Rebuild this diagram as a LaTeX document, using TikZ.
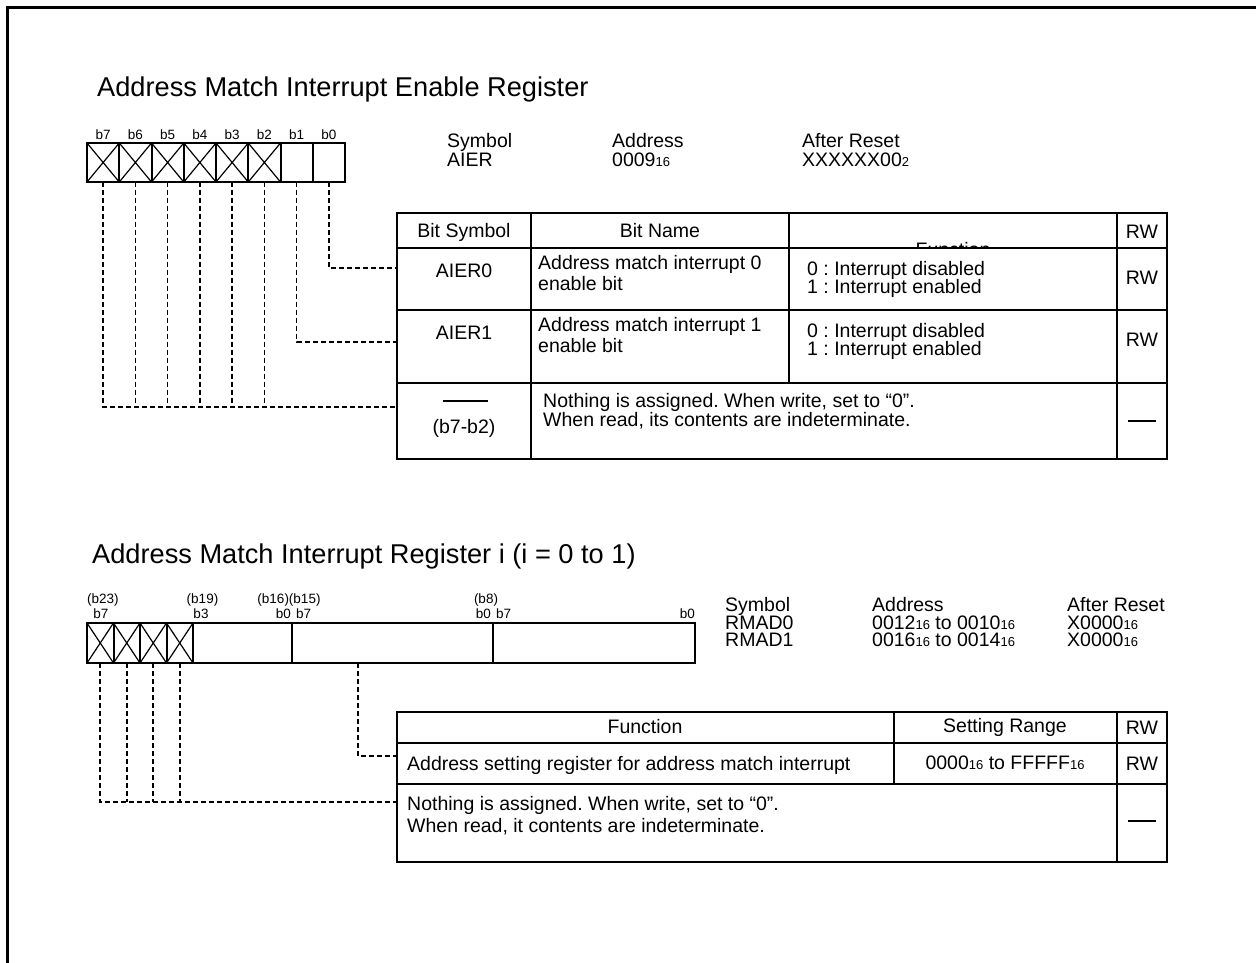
\documentclass[tikz,border=0pt]{standalone}
\usepackage{fontspec}
\setmainfont{Liberation Sans}
\frenchspacing
\newcommand\hx[1]{{\fontsize{13}{13}\selectfont #1}}
\begin{document}
\begin{tikzpicture}[x=1pt,y=-1pt,
  T/.style={font=\fontsize{19.5}{19.5}\selectfont, inner sep=0pt, text height=14pt, text depth=0pt},
  Ttl/.style={font=\fontsize{27.2}{27.2}\selectfont, inner sep=0pt, text height=19.5pt, text depth=0pt},
  B/.style={font=\fontsize{13.5}{13.5}\selectfont, inner sep=0pt, text height=9.7pt, text depth=0pt},
  box/.style={line width=2pt},
  cr/.style={line width=1.2pt},
  dsh/.style={line width=1.7pt, dash pattern=on 5pt off 3pt},
  tbl/.style={line width=1.8pt},
  frame/.style={line width=3pt}]
\useasboundingbox (0,0) rectangle (1256,963);
\draw[frame] (7.5,963) -- (7.5,7.5) -- (1256,7.5);

% ---------- Top register ----------
\node[Ttl, anchor=west] (title1) at (97,87) {Address Match Interrupt Enable Register};

\foreach \i in {0,...,7} {
  \pgfmathsetmacro\xl{87+(7-\i)*32.25}
  \draw[box] (\xl,143) rectangle ++(32.25,39);
  \coordinate (tb\i) at (\xl+16.125,182);
  \node[B] (tl\i) at (\xl+16.125,135) {b\i};
}
\foreach \i in {2,...,7} {
  \pgfmathsetmacro\xl{87+(7-\i)*32.25}
  \draw[cr] (\xl,143) -- ++(32.25,39) (\xl+32.25,143) -- ++(-32.25,39);
}

\node[T, anchor=west] (s1) at (447,141) {Symbol};
\node[T, anchor=west] (s2) at (447,160) {AIER};
\node[T, anchor=west] (a1) at (612,141) {Address};
\node[T, anchor=west] (a2) at (612,160) {0009\hx{16}};
\node[T, anchor=west] (r1) at (802,141) {After Reset};
\node[T, anchor=west] (r2) at (802,160) {XXXXXX00\hx{2}};

% table 1
\draw[tbl] (397,213) rectangle (1167,459);
\draw[tbl] (397,248) -- (1167,248);
\draw[tbl] (397,310) -- (1167,310);
\draw[tbl] (397,383) -- (1167,383);
\draw[tbl] (531,213) -- (531,459);
\draw[tbl] (789,213) -- (789,383);
\draw[tbl] (1117,213) -- (1117,459);

\node[T] (h1) at (464,230) {Bit Symbol};
\node[T] (h2) at (660,230) {Bit Name};
\begin{scope}
  \clip (790,214) rectangle (1116,247);
  \node[T] (h3) at (953,249) {Function};
\end{scope}
\node[T] (h4) at (1142,231.5) {RW};

\node[T] (c01) at (464,270) {AIER0};
\node[T, anchor=west] (c02) at (538,262) {Address match interrupt 0};
\node[T, anchor=west] (c03) at (538,283) {enable bit};
\node[T, anchor=west] (c04) at (807,268) {0 : Interrupt disabled};
\node[T, anchor=west] (c05) at (807,286) {1 : Interrupt enabled};
\node[T] (c06) at (1142,277) {RW};

\node[T] (c11) at (464,332) {AIER1};
\node[T, anchor=west] (c12) at (538,324) {Address match interrupt 1};
\node[T, anchor=west] (c13) at (538,345) {enable bit};
\node[T, anchor=west] (c14) at (807,330) {0 : Interrupt disabled};
\node[T, anchor=west] (c15) at (807,348) {1 : Interrupt enabled};
\node[T] (c16) at (1142,339) {RW};

\draw[line width=1.5pt] (443,401) -- (488,401);
\node[T] (c21) at (464,426) {(b7-b2)};
\node[T, anchor=west] (c22) at (543,400) {Nothing is assigned. When write, set to “0”.};
\node[T, anchor=west] (c23) at (543,419) {When read, its contents are indeterminate.};
\draw[line width=1.5pt] (1128,421) -- (1156,421);

\coordinate (row0) at (397,268);
\coordinate (row1) at (397,342);
\coordinate (row2) at (397,407);
\draw[dsh] (tb0) |- (row0);
\draw[dsh] (tb1) |- (row1);
\draw[dsh] (tb7) |- (row2);
\foreach \i in {2,...,6} { \draw[dsh] (tb\i) -- (tb\i |- row2); }

% ---------- Bottom register ----------
\node[Ttl, anchor=west] (title2) at (92,554) {Address Match Interrupt Register i (i = 0 to 1)};

\draw[box] (87,623) rectangle (695,663);
\foreach \xa in {113.5,140,166.5,193,292,493} { \draw[box] (\xa,623) -- (\xa,663); }
\foreach \xa in {87,113.5,140,166.5} {
  \draw[cr] (\xa,623) -- ++(26.5,40) (\xa+26.5,623) -- ++(-26.5,40);
}
\coordinate (bb7) at (100.25,663);
\coordinate (bb6) at (126.75,663);
\coordinate (bb5) at (153.25,663);
\coordinate (bb4) at (179.75,663);
\coordinate (bmid) at (358,663);

\node[B, anchor=west] (l1) at (87,599) {(b23)};
\node[B] (l2) at (101,614) {b7};
\node[B] (l3) at (202.5,599) {(b19)};
\node[B] (l4) at (201,614) {b3};
\node[B] (l5) at (289,599) {(b16)(b15)};
\node[B, anchor=east] (l6) at (291,614) {b0};
\node[B, anchor=west] (l7) at (296,614) {b7};
\node[B] (l8) at (486,599) {(b8)};
\node[B, anchor=east] (l9) at (491,614) {b0};
\node[B, anchor=west] (l10) at (496,614) {b7};
\node[B, anchor=east] (l11) at (695,614) {b0};

\node[T, anchor=west] (t1) at (725,604.5) {Symbol};
\node[T, anchor=west] (t2) at (725,622) {RMAD0};
\node[T, anchor=west] (t3) at (725,639.5) {RMAD1};
\node[T, anchor=west] (t4) at (872,604.5) {Address};
\node[T, anchor=west] (t5) at (872,622) {0012\hx{16} to 0010\hx{16}};
\node[T, anchor=west] (t6) at (872,639.5) {0016\hx{16} to 0014\hx{16}};
\node[T, anchor=west] (t7) at (1067,604.5) {After Reset};
\node[T, anchor=west] (t8) at (1067,622) {X0000\hx{16}};
\node[T, anchor=west] (t9) at (1067,639.5) {X0000\hx{16}};

% table 2
\draw[tbl] (397,712) rectangle (1167,862);
\draw[tbl] (397,743) -- (1167,743);
\draw[tbl] (397,784) -- (1167,784);
\draw[tbl] (894,712) -- (894,784);
\draw[tbl] (1117,712) -- (1117,862);

\node[T] (g1) at (645,726) {Function};
\node[T] (g2) at (1005,725.5) {Setting Range};
\node[T] (g3) at (1142,727) {RW};
\node[T, anchor=west] (g4) at (407,763) {Address setting register for address match interrupt};
\node[T] (g5) at (1005,762) {0000\hx{16} to FFFFF\hx{16}};
\node[T] (g6) at (1142,763) {RW};
\node[T, anchor=west] (g7) at (407,803) {Nothing is assigned. When write, set to “0”.};
\node[T, anchor=west] (g8) at (407,825) {When read, it contents are indeterminate.};
\draw[line width=1.5pt] (1128,821) -- (1156,821);

\coordinate (brow1) at (397,756);
\coordinate (brow2) at (397,802);
\draw[dsh] (bmid) |- (brow1);
\draw[dsh] (bb7) |- (brow2);
\foreach \c in {bb6,bb5,bb4} { \draw[dsh] (\c) -- (\c |- brow2); }
\end{tikzpicture}
\end{document}
